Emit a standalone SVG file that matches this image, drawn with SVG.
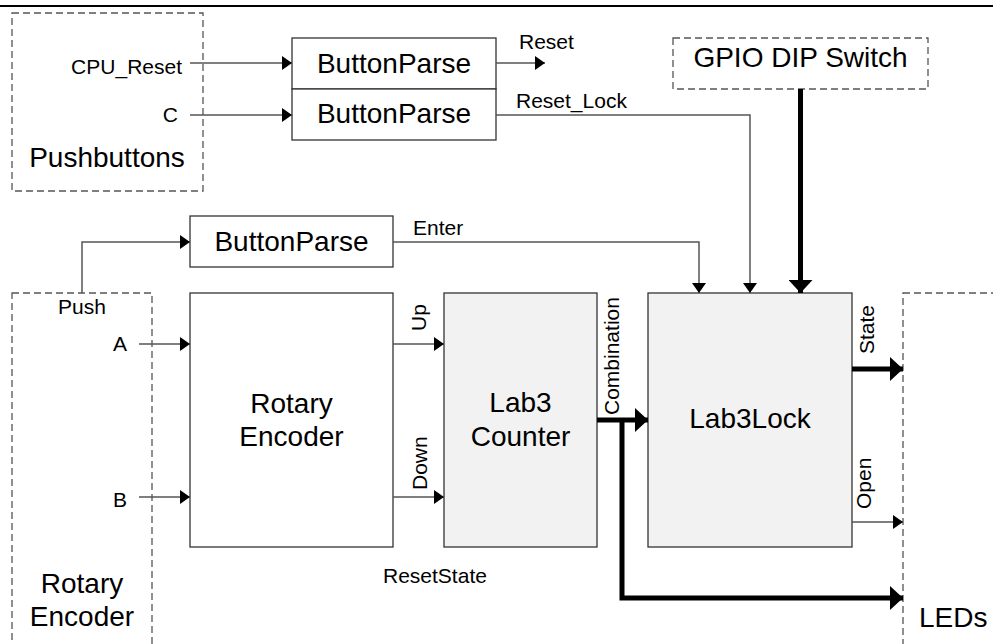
<svg xmlns="http://www.w3.org/2000/svg" width="993" height="644" viewBox="0 0 993 644">
<style>
text{font-family:"Liberation Sans",Arial,sans-serif;fill:#000}
.s{font-size:21px}
.b{font-size:28px}
.box{fill:#fff;stroke:#333;stroke-width:1.3}
.gbox{fill:#f2f2f2;stroke:#333;stroke-width:1.3}
.dash{fill:none;stroke:#555;stroke-width:1.3;stroke-dasharray:7,4}
.w{fill:none;stroke:#555;stroke-width:1.5;marker-end:url(#a)}
.wn{fill:none;stroke:#555;stroke-width:1.5}
.t{fill:none;stroke:#000;stroke-width:5;marker-end:url(#A)}
.tn{fill:none;stroke:#000;stroke-width:5}
</style>
<defs>
<marker id="a" viewBox="0 0 10 14" refX="10" refY="7" markerWidth="10" markerHeight="14" markerUnits="userSpaceOnUse" orient="auto"><path d="M0,0 L10,7 L0,14 z" fill="#000"/></marker>
<marker id="A" viewBox="0 0 13 24" refX="13" refY="12" markerWidth="13" markerHeight="24" markerUnits="userSpaceOnUse" orient="auto"><path d="M0,0 L13,12 L0,24 z" fill="#000"/></marker>
</defs>
<rect width="993" height="644" fill="#fff"/>
<line x1="0" y1="6" x2="993" y2="6" stroke="#000" stroke-width="2"/>

<g id="pushbuttons">
<rect class="dash" x="12" y="13" width="191" height="178"/>
<text class="s" x="182" y="74" text-anchor="end">CPU_Reset</text>
<text class="s" x="178" y="122" text-anchor="end">C</text>
<text class="b" x="107" y="167" text-anchor="middle">Pushbuttons</text>
</g>
<g id="buttonparse1">
<rect class="box" x="292" y="38" width="204" height="51"/>
<text class="b" x="394" y="73" text-anchor="middle">ButtonParse</text>
</g>
<g id="buttonparse2">
<rect class="box" x="292" y="89" width="204" height="51"/>
<text class="b" x="394" y="123" text-anchor="middle">ButtonParse</text>
</g>
<g id="gpio">
<rect class="dash" x="673" y="38" width="255" height="51"/>
<text class="b" x="800.5" y="67" text-anchor="middle">GPIO DIP Switch</text>
</g>
<g id="buttonparse3">
<rect class="box" x="190" y="216" width="203" height="51"/>
<text class="b" x="291.5" y="251" text-anchor="middle">ButtonParse</text>
</g>
<g id="rotary-input">
<rect class="dash" x="12" y="293" width="140" height="380"/>
<text class="s" x="58" y="314">Push</text>
<text class="s" x="127" y="351" text-anchor="end">A</text>
<text class="s" x="127" y="507" text-anchor="end">B</text>
<text class="b" x="82" y="593" text-anchor="middle">Rotary</text>
<text class="b" x="82" y="626" text-anchor="middle">Encoder</text>
</g>
<g id="rotary-encoder">
<rect class="box" x="190" y="293" width="203" height="254"/>
<text class="b" x="291.5" y="413" text-anchor="middle">Rotary</text>
<text class="b" x="291.5" y="446" text-anchor="middle">Encoder</text>
</g>
<g id="lab3counter">
<rect class="gbox" x="444" y="293" width="153" height="254"/>
<text class="b" x="520.5" y="412" text-anchor="middle">Lab3</text>
<text class="b" x="520.5" y="446" text-anchor="middle">Counter</text>
</g>
<g id="lab3lock">
<rect class="gbox" x="648" y="293" width="204" height="254"/>
<text class="b" x="750" y="428" text-anchor="middle">Lab3Lock</text>
</g>
<g id="leds">
<rect class="dash" x="903" y="293" width="110" height="380"/>
<text class="b" x="919" y="627">LEDs</text>
</g>

<g id="connectors">
<path class="w" d="M190,63 H292"/>
<path class="w" d="M190,115 H292"/>
<path class="w" d="M496,63 H545"/>
<path class="w" d="M496,115 H750 V293"/>
<path class="t" d="M800.5,89 V293"/>
<path class="w" d="M393,242 H699 V293"/>
<path class="w" d="M82,293 V242 H190"/>
<path class="w" d="M139,344 H190"/>
<path class="w" d="M139,497 H190"/>
<path class="w" d="M393,344 H444"/>
<path class="w" d="M393,497 H444"/>
<path class="t" d="M597,420 H648"/>
<path class="t" d="M622,420 V598 H903"/>
<path class="t" d="M852,369 H903"/>
<path class="w" d="M852,522 H903"/>
<text class="s" x="519" y="49">Reset</text>
<text class="s" x="516" y="108">Reset_Lock</text>
<text class="s" x="413" y="235">Enter</text>
<text class="s" transform="translate(426,331) rotate(-90)">Up</text>
<text class="s" transform="translate(427,490) rotate(-90)">Down</text>
<text class="s" transform="translate(619,415) rotate(-90)">Combination</text>
<text class="s" transform="translate(874,354) rotate(-90)">State</text>
<text class="s" transform="translate(871,509) rotate(-90)">Open</text>
<text class="s" x="383" y="583">ResetState</text>
</g>
</svg>
